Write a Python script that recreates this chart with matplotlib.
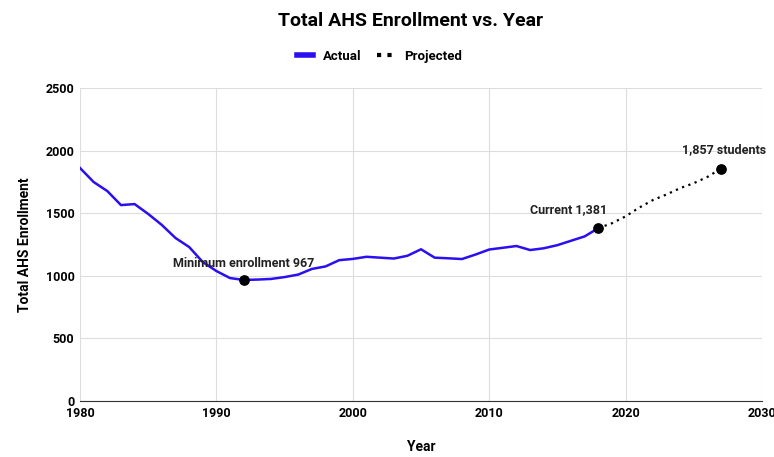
import matplotlib.pyplot as plt
from matplotlib.lines import Line2D

plt.rcParams['font.family'] = ['Roboto', 'DejaVu Sans']

# actual enrollment
years = list(range(1980, 2019))
enrollment = [1861, 1749, 1677, 1565, 1573, 1494, 1406, 1302, 1230, 1110,
              1038, 982, 967, 970, 975, 990, 1010, 1055, 1075, 1125,
              1135, 1152, 1145, 1138, 1160, 1212, 1145, 1140, 1134, 1170,
              1210, 1224, 1238, 1206, 1220, 1245, 1280, 1315, 1381]

# projection
proj_years = list(range(2018, 2028))
proj_enrollment = [1381, 1420, 1475, 1545, 1605, 1650, 1700, 1740, 1790, 1857]

fig = plt.figure(figsize=(7.74, 4.57), dpi=100)
ax = fig.add_axes([0.1034, 0.1225, 0.8811, 0.6849])

ax.plot(years, enrollment, color='#2b0ff0', lw=1.8, zorder=3)
ax.plot(proj_years, proj_enrollment, color='black', lw=1.6, ls=(0, (1, 2)), zorder=3)

# highlighted points
pts = [(1992, 967), (2018, 1381), (2027, 1857)]
ax.scatter([p[0] for p in pts], [p[1] for p in pts], s=45, color='black', zorder=4)

ax.text(1992, 1100, "Minimum enrollment 967", ha='center', va='center',
        fontsize=9, fontweight='bold', color='#222222', zorder=5)
ax.text(2015.8, 1525, "Current 1,381", ha='center', va='center',
        fontsize=9, fontweight='bold', color='#222222', zorder=5)
ax.text(2027.2, 2005, "1,857 students", ha='center', va='center',
        fontsize=9, fontweight='bold', color='#222222', zorder=5)

ax.set_xlim(1980, 2030)
ax.set_ylim(0, 2500)
ax.set_xticks(range(1980, 2031, 10))
ax.set_yticks(range(0, 2501, 500))
ax.grid(True, color='#dddddd', lw=0.8)
ax.set_axisbelow(True)
for s in ['top', 'right', 'left']:
    ax.spines[s].set_visible(False)
ax.spines['bottom'].set_color('#333333')
ax.tick_params(length=0, labelsize=9, pad=4)
for lab in ax.get_xticklabels() + ax.get_yticklabels():
    lab.set_fontweight('bold')

ax.set_xlabel("Year", fontsize=10, fontweight='bold', labelpad=15)
ax.set_ylabel("Total AHS Enrollment", fontsize=10, fontweight='bold', labelpad=10)

fig.text(0.53, 0.955, "Total AHS Enrollment vs. Year", ha='center', va='center',
         fontsize=14, fontweight='bold')

handles = [Line2D([], [], color='#2b0ff0', lw=4),
           Line2D([], [], color='black', lw=3, ls=(0, (1, 1.5)))]
fig.legend(handles, ["Actual", "Projected"], loc='center', bbox_to_anchor=(0.49, 0.877),
           ncol=2, frameon=False, handlelength=1.2, columnspacing=1.2,
           prop={'weight': 'bold', 'size': 9.5})

plt.savefig("out.png")
